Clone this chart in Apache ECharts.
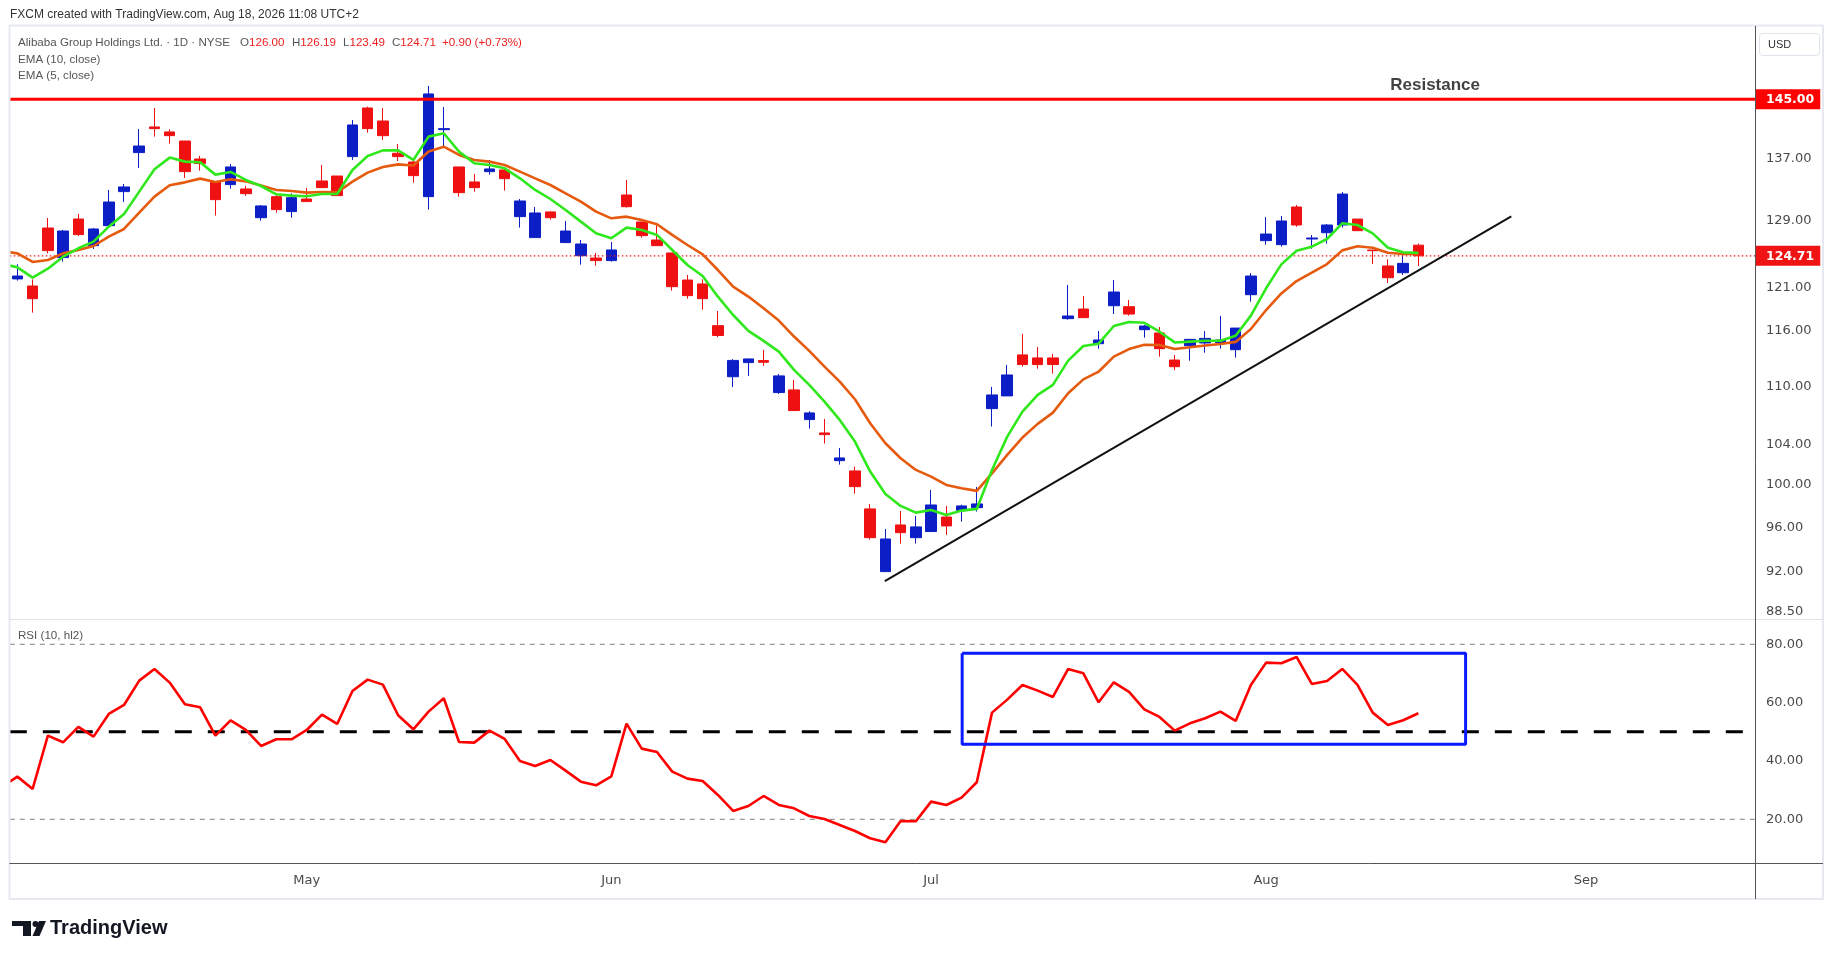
<!DOCTYPE html>
<html><head><meta charset="utf-8">
<script src="https://cdn.jsdelivr.net/npm/echarts@6/dist/echarts.min.js"></script>
<style>html,body{margin:0;padding:0;background:#fff;}#c{width:1835px;height:959px;}</style>
</head><body><div id="c"></div>
<script>
// ---- trading-day categories (month -> days) ----
const aprDays = [6,7,8,9,10,13,14,15,16,17,20,21,22,23,24,27,28,29,30];
const mayDays = [1,4,5,6,7,8,11,12,13,14,15,18,19,20,21,22,26,27,28,29];
const junDays = [1,2,3,4,5,8,9,10,11,12,15,16,17,18,22,23,24,25,26,29,30];
const julDays = [1,2,6,7,8,9,10,13,14,15,16,17,20,21,22,23,24,27,28,29,30,31];
const augDays = [3,4,5,6,7,10,11,12,13,14,17,18,19,20,21,24,25,26,27,28,31];
const sepDays = [1,2,3,4,8,9,10,11,14,15,16,17];
const monthNames = ['Jan','Feb','Mar','Apr','May','Jun','Jul','Aug','Sep','Oct','Nov','Dec'];

// ---- OHLC (Alibaba, daily) ----
const opens = [121.97,121.14,128.10,124.50,129.22,125.94,128.39,132.67,137.75,141.20,
140.52,139.30,136.91,133.95,133.57,133.01,129.38,132.03,130.14,131.73,
134.04,134.68,137.22,143.80,142.01,137.66,136.51,132.03,140.83,135.86,
133.91,135.25,135.47,129.51,126.92,130.10,126.31,124.73,124.45,124.14,
132.24,128.85,126.63,125.06,121.84,121.38,116.60,111.00,112.52,112.74,
109.32,109.60,106.51,105.15,102.38,101.37,97.73,92.00,96.23,95.06,
95.62,96.97,97.57,97.85,107.64,108.97,113.36,113.03,113.03,117.39,
118.48,114.59,118.86,118.75,116.15,115.78,112.80,114.37,114.67,114.70,
113.93,120.13,126.55,126.06,130.72,126.75,127.52,128.47,129.21,125.41,
123.50,122.70,126.00];
const closes = [122.31,119.67,125.34,127.73,127.29,127.98,131.35,133.27,138.63,140.97,
140.02,135.25,136.30,131.65,135.86,132.41,130.85,130.39,131.90,131.40,
133.18,132.16,141.47,140.97,140.02,137.22,134.73,145.76,140.97,132.54,
133.18,135.60,134.34,131.48,129.97,129.38,127.73,126.14,124.14,125.42,
130.76,127.16,125.94,121.06,120.02,119.67,115.50,112.76,112.92,112.56,
111.09,107.44,107.20,104.98,102.65,99.85,95.06,94.94,95.52,96.05,
98.10,96.14,98.01,98.20,109.07,111.19,112.31,112.31,112.31,117.69,
117.50,115.00,120.44,117.91,116.56,114.04,112.08,115.07,115.18,115.00,
116.33,122.31,127.36,128.97,128.47,126.87,128.47,132.36,127.77,125.33,
122.11,123.81,124.71];
const lows = [121.77,118.07,125.01,124.02,127.12,125.54,128.39,131.35,135.73,139.89,
138.95,134.43,135.38,129.64,133.05,132.12,129.01,130.01,129.38,131.40,
133.18,132.16,136.78,140.43,139.44,136.65,133.82,130.39,138.54,132.03,
132.67,134.86,132.80,128.15,126.92,129.14,126.31,123.66,123.54,124.02,
130.64,126.92,125.94,120.60,119.67,118.41,115.30,109.90,111.09,112.16,
109.18,107.44,105.59,104.08,101.99,99.18,94.88,92.00,94.52,94.52,
95.62,95.31,96.54,97.48,105.80,108.97,112.09,111.87,111.34,117.27,
117.50,114.04,117.91,117.73,115.26,113.17,111.72,112.73,113.60,114.04,
113.06,119.32,126.06,125.82,128.26,125.57,126.18,128.14,127.77,123.73,
121.49,122.43,123.49];
const highs = [123.70,121.92,129.34,127.86,129.84,128.10,132.88,133.65,140.92,143.80,
140.88,139.30,137.31,133.95,136.25,133.39,130.97,132.24,132.45,133.14,
136.12,134.68,142.15,143.99,143.80,138.90,136.65,146.89,143.94,135.86,
134.94,136.78,135.81,131.73,130.72,130.18,128.97,126.63,125.06,126.39,
134.17,128.85,128.43,125.06,122.43,121.92,118.26,112.90,112.95,113.90,
111.30,110.66,107.37,106.58,103.64,101.79,98.20,95.86,97.54,97.07,
99.53,98.01,98.13,99.82,109.92,112.27,115.67,114.23,113.47,121.26,
119.98,116.00,121.84,119.52,116.67,116.45,113.35,115.11,116.00,117.69,
116.33,122.66,129.46,129.59,130.97,127.24,128.59,132.62,129.21,125.41,
124.29,124.81,126.19];

// ---- indicators ----
const ema5 = [123.34,122.12,123.18,124.61,125.62,126.43,128.27,129.84,132.67,135.55,
137.09,136.56,136.47,134.86,135.21,134.17,133.39,132.33,132.16,132.07,
132.37,132.37,135.47,137.31,138.05,138.06,136.78,139.89,140.34,137.88,
136.34,136.12,135.68,134.38,132.88,131.73,130.35,128.89,127.45,126.84,
128.15,127.86,127.25,125.42,123.62,122.31,119.90,117.80,116.01,114.90,
113.72,111.73,110.13,108.37,106.48,104.28,101.31,99.15,98.01,97.38,
97.63,97.16,97.57,97.73,101.47,104.78,107.33,109.07,110.13,112.74,
114.33,114.59,116.56,117.01,116.92,115.92,114.73,114.82,114.91,114.91,
115.48,117.73,120.87,123.69,125.33,125.82,126.75,128.68,128.47,127.44,
125.69,125.13,125.09];
const ema10 = [125.01,123.98,124.22,125.01,125.42,125.90,127.04,127.98,130.01,132.03,
133.48,133.86,134.34,133.91,134.25,133.99,133.44,132.88,132.75,132.54,
132.63,132.58,133.95,135.12,135.85,136.20,136.05,137.90,138.54,137.44,
136.78,136.56,136.12,135.25,134.38,133.52,132.45,131.40,130.14,129.30,
129.51,129.09,128.56,127.25,126.02,124.89,123.02,121.06,119.91,118.57,
117.17,115.38,113.80,112.09,110.48,108.62,106.13,104.11,102.62,101.47,
100.82,100.01,99.69,99.44,101.14,102.95,104.68,106.07,107.23,109.25,
110.72,111.54,113.17,114.00,114.48,114.45,114.00,114.19,114.40,114.55,
114.79,116.22,118.37,120.28,121.72,122.70,123.73,125.37,125.86,125.69,
125.09,124.94,124.94];
const rsi = [34.63,30.40,48.69,46.40,51.66,48.34,56.11,59.20,67.54,71.54,
66.86,59.43,58.40,48.69,53.94,50.63,45.14,47.43,47.43,50.63,
55.89,52.69,64.00,67.89,66.17,55.66,50.86,56.91,61.49,46.51,
46.29,50.40,47.54,40.00,38.29,40.34,36.69,32.91,31.66,34.74,
52.80,44.23,43.09,36.34,33.94,33.14,28.34,22.86,24.57,28.00,
24.91,23.77,21.14,20.11,18.06,16.00,13.49,12.11,19.43,19.31,
26.06,24.91,27.43,32.69,56.57,61.03,66.06,64.11,61.94,71.54,
70.06,60.11,66.97,63.66,57.71,55.09,50.40,52.91,54.63,56.91,
53.71,66.06,73.71,73.49,75.66,66.40,67.43,71.54,66.06,56.57,
52.34,53.94,56.34];
// indicator values where the lines enter the pane at its left edge
const ema5LeftEdge = 123.54;
const ema10LeftEdge = 125.14;
const rsiLeftEdge = 32.91;

// ---- levels, drawings and tick labels ----
const resistanceLevel = 145;
const lastPrice = 124.71;
const priceTicks = [137, 129, 121, 116, 110, 104, 100, 96, 92, 88.5];
const rsiTicks = [80, 60, 40, 20];
const rsiBands = {upper: 80, middle: 50, lower: 20};
const trendStart = [56.96, 91.17];
const trendEnd = [98.10, 129.53];
const rsiBoxX = [62.04, 95.10];
const rsiBoxY = [45.71, 76.91];
const resistanceTextAt = [93.1, 147.03];
const lineEndX = 114.11;   // x (bar index) where the price scale begins
const priceRange = [87.98, 155.62];
const rsiRange = [5.02, 88.67];

// ---- build ----
const monthDays = [['2026-04',aprDays],['2026-05',mayDays],['2026-06',junDays],['2026-07',julDays],['2026-08',augDays],['2026-09',sepDays]];
const categories = [];
monthDays.forEach(([m, days]) => days.forEach(d => categories.push(m + '-' + String(d).padStart(2,'0'))));
const N = categories.length;
const candles = opens.map((o,i) => [o, closes[i], lows[i], highs[i]]);
const withEdge = (edge, arr) => [[-0.5, edge]].concat(arr.map((v,i) => [i, v]));

const UP = '#0c1fc6', DOWN = '#ef1111';
const L = 9.8, BAND = 15.228, W = BAND * N;
const axisFont = {color:'#4a4a4a', fontFamily:'DejaVu Sans', fontSize:13};

const chart = echarts.init(document.getElementById('c'), null, {renderer:'canvas'});
const fontUI = '"Liberation Sans", Arial, sans-serif';

function txt(x, y, text, size, color, weight){
  return {type:'text', x:x, y:y, z:200, silent:true,
    style:{text:text, fill:color, font:(weight||'normal')+' '+size+'px '+fontUI,
      textVerticalAlign:'middle', verticalAlign:'middle', textAlign:'left', align:'left'}};
}
function richTxt(x, y, label, value){
  return {type:'text', x:x, y:y, z:200, silent:true,
    style:{text:'{g|'+label+'}{r|'+value+'}', textVerticalAlign:'middle', verticalAlign:'middle',
      rich:{g:{fill:'#555', color:'#555', font:'11.6px '+fontUI, fontFamily:'Liberation Sans', fontSize:11.6},
            r:{fill:'#f01c1c', color:'#f01c1c', font:'11.6px '+fontUI, fontFamily:'Liberation Sans', fontSize:11.6}}}};
}

const graphics = [
  {type:'rect', z:150, silent:true, shape:{x:9.5,y:25.5,width:1813.5,height:873.5}, style:{fill:'none', stroke:'#e6e9ef', lineWidth:2}},
  {type:'line', z:150, silent:true, shape:{x1:9.5,y1:619.5,x2:1823,y2:619.5}, style:{stroke:'#e0e3eb', lineWidth:1}},
  {type:'line', z:150, silent:true, shape:{x1:9.5,y1:863.5,x2:1823,y2:863.5}, style:{stroke:'#555', lineWidth:1}},
  {type:'line', z:150, silent:true, shape:{x1:1755.5,y1:26,x2:1755.5,y2:899}, style:{stroke:'#555', lineWidth:1}},
  {type:'rect', z:150, silent:true, shape:{x:1759.5,y:33.5,width:60,height:22,r:3}, style:{fill:'#fff', stroke:'#e0e3eb', lineWidth:1}},
  txt(1768, 45, 'USD', 11, '#333'),
  txt(10, 15, 'FXCM created with TradingView.com, Aug 18, 2026 11:08 UTC+2', 12, '#333'),
  txt(18, 43, 'Alibaba Group Holdings Ltd. \u00b7 1D \u00b7 NYSE', 11.6, '#555'),
  richTxt(240, 43, 'O', '126.00'),
  richTxt(292, 43, 'H', '126.19'),
  richTxt(343, 43, 'L', '123.49'),
  richTxt(392, 43, 'C', '124.71'),
  txt(442, 43, '+0.90 (+0.73%)', 11.6, '#f01c1c'),
  txt(18, 59.5, 'EMA (10, close)', 11.6, '#555'),
  txt(18, 76, 'EMA (5, close)', 11.6, '#555'),
  txt(18, 636, 'RSI (10, hl2)', 11.6, '#555'),
  // TradingView logo
  {type:'rect', z:150, silent:true, shape:{x:12,y:921,width:19,height:5}, style:{fill:'#131722'}},
  {type:'rect', z:150, silent:true, shape:{x:23,y:921,width:8,height:15}, style:{fill:'#131722'}},
  {type:'circle', z:150, silent:true, shape:{cx:35.5,cy:924,r:3}, style:{fill:'#131722'}},
  {type:'polygon', z:150, silent:true, shape:{points:[[39,921],[46,921],[39.5,936],[32.5,936]]}, style:{fill:'#131722'}},
  txt(50, 928.5, 'TradingView', 20, '#131722', 'bold')
];

const option = {
  animation:false,
  backgroundColor:'#ffffff',
  grid:[
    {left:L, top:26, width:W, height:592, outerBoundsMode:'none', containLabel:false},
    {left:L, top:619, width:W, height:244, outerBoundsMode:'none', containLabel:false}
  ],
  xAxis:[
    {type:'category', gridIndex:0, data:categories, boundaryGap:true, show:false, splitLine:{show:false}},
    {type:'category', gridIndex:1, data:categories, boundaryGap:true,
      axisLine:{show:false}, axisTick:{show:false}, splitLine:{show:false},
      axisLabel:Object.assign({margin:11,
        interval:(idx, val) => idx > 0 && String(val).slice(0,7) !== categories[idx-1].slice(0,7),
        formatter:(val) => monthNames[parseInt(String(val).slice(5,7),10)-1]}, axisFont)},
    {type:'value', gridIndex:0, min:-0.5, max:N-0.5, show:false, splitLine:{show:false}},
    {type:'value', gridIndex:1, min:-0.5, max:N-0.5, show:false, splitLine:{show:false}}
  ],
  yAxis:[
    {type:'log', gridIndex:0, position:'right', offset:-6, min:priceRange[0], max:priceRange[1],
      axisLine:{show:false}, axisTick:{show:false}, splitLine:{show:false},
      axisLabel:Object.assign({customValues:priceTicks, margin:11, hideOverlap:false,
        formatter:(v) => Number(v).toFixed(2)}, axisFont)},
    {type:'log', gridIndex:0, position:'right', offset:-6, min:priceRange[0], max:priceRange[1],
      axisLine:{show:false}, axisTick:{show:false}, splitLine:{show:false},
      axisLabel:{customValues:[resistanceLevel, lastPrice], margin:0, hideOverlap:false,
        formatter:(v) => Math.abs(v - resistanceLevel) < 0.01 ? '{a|' + resistanceLevel.toFixed(2) + '}' : '{b|' + lastPrice.toFixed(2) + '}',
        rich:{
          a:{color:'#fff', fontWeight:'bold', fontFamily:'DejaVu Sans', fontSize:12.5, backgroundColor:'#ff0000', padding:[4,6,3,11], lineHeight:15},
          b:{color:'#fff', fontWeight:'bold', fontFamily:'DejaVu Sans', fontSize:12.5, backgroundColor:'#f01313', padding:[4,6,3,11], lineHeight:15}
        }}},
    {type:'value', gridIndex:1, position:'right', offset:-6, min:rsiRange[0], max:rsiRange[1],
      axisLine:{show:false}, axisTick:{show:false}, splitLine:{show:false},
      axisLabel:Object.assign({customValues:rsiTicks, margin:11, hideOverlap:false,
        formatter:(v) => Number(v).toFixed(2)}, axisFont)}
  ],
  series:[
    {type:'line', name:'resistance', xAxisIndex:2, yAxisIndex:0, silent:true, showSymbol:false,
      data:[[-0.5, resistanceLevel],[lineEndX, resistanceLevel]], lineStyle:{color:'#ff0000', width:3}},
    {type:'line', name:'last', xAxisIndex:2, yAxisIndex:0, silent:true, showSymbol:false,
      data:[[-0.5, lastPrice],[lineEndX, lastPrice]], lineStyle:{color:'#f01313', width:1.3, type:[1.5,2.5]}},
    {type:'candlestick', name:'BABA', xAxisIndex:0, yAxisIndex:0, data:candles, barWidth:11,
      itemStyle:{color:UP, color0:DOWN, borderColor:UP, borderColor0:DOWN, borderWidth:1}},
    {type:'line', name:'EMA10', xAxisIndex:2, yAxisIndex:0, data:withEdge(ema10LeftEdge, ema10), showSymbol:false, silent:true,
      lineStyle:{color:'#e65a0e', width:2.6}},
    {type:'line', name:'EMA5', xAxisIndex:2, yAxisIndex:0, data:withEdge(ema5LeftEdge, ema5), showSymbol:false, silent:true,
      lineStyle:{color:'#2fe81c', width:2.6}},
    {type:'line', name:'trend', xAxisIndex:2, yAxisIndex:0, data:[trendStart, trendEnd], showSymbol:false, silent:true,
      lineStyle:{color:'#111', width:2}},
    {type:'scatter', name:'resLabel', xAxisIndex:2, yAxisIndex:0, data:[resistanceTextAt], symbolSize:1, silent:true,
      itemStyle:{color:'rgba(0,0,0,0)'},
      label:{show:true, position:'inside', formatter:'Resistance', color:'#111', fontFamily:'Liberation Sans', fontWeight:'bold', fontSize:17}},
    {type:'line', name:'rsi80', xAxisIndex:3, yAxisIndex:2, silent:true, showSymbol:false,
      data:[[-0.5, rsiBands.upper],[lineEndX, rsiBands.upper]], lineStyle:{color:'#808080', width:1, type:[5,5]}},
    {type:'line', name:'rsi20', xAxisIndex:3, yAxisIndex:2, silent:true, showSymbol:false,
      data:[[-0.5, rsiBands.lower],[lineEndX, rsiBands.lower]], lineStyle:{color:'#808080', width:1, type:[5,5]}},
    {type:'line', name:'rsi50', xAxisIndex:3, yAxisIndex:2, silent:true, showSymbol:false,
      data:[[-0.5, rsiBands.middle],[lineEndX, rsiBands.middle]], lineStyle:{color:'#000', width:3, type:[17,16]}},
    {type:'line', name:'RSI', xAxisIndex:3, yAxisIndex:2, data:withEdge(rsiLeftEdge, rsi), showSymbol:false, silent:true,
      lineStyle:{color:'#ff0000', width:2.6}},
    {type:'line', name:'rsiBox', xAxisIndex:3, yAxisIndex:2, silent:true, showSymbol:false,
      data:[[rsiBoxX[0],rsiBoxY[1]],[rsiBoxX[1],rsiBoxY[1]],[rsiBoxX[1],rsiBoxY[0]],[rsiBoxX[0],rsiBoxY[0]],[rsiBoxX[0],rsiBoxY[1]]],
      lineStyle:{color:'#0a1aff', width:3}}
  ],
  graphic:graphics
};
chart.setOption(option);
</script>
</body></html>
